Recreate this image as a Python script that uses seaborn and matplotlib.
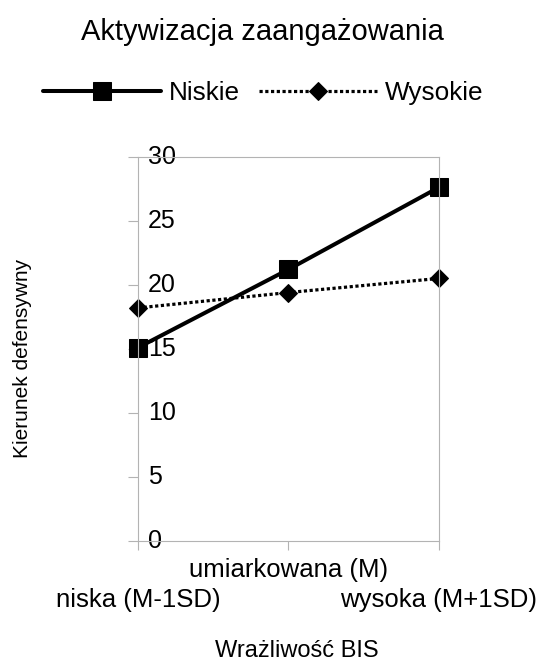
import numpy as np
import pandas as pd
import matplotlib
matplotlib.use("Agg")
import matplotlib.pyplot as plt
import matplotlib.transforms as mtransforms
import seaborn as sns

# Data
kategorie = ["niska (M-1SD)", "umiarkowana (M)", "wysoka (M+1SD)"]
niskie = [15.1, 21.2, 27.6]
wysokie = [18.2, 19.4, 20.5]

df = pd.DataFrame({
    "x": list(range(len(kategorie))) * 2,
    "wartosc": niskie + wysokie,
    "grupa": ["Niskie"] * 3 + ["Wysokie"] * 3,
})

sns.set_theme(style="white")
plt.rcParams["font.family"] = ["Liberation Sans", "DejaVu Sans"]
plt.rcParams["text.color"] = "black"
plt.rcParams["xtick.labelcolor"] = "black"
plt.rcParams["ytick.labelcolor"] = "black"

fig = plt.figure(figsize=(5.41, 6.64), dpi=100)
ax = fig.add_axes([0.255, 0.185, 0.556, 0.579])

sns.lineplot(data=df[df.grupa == "Niskie"], x="x", y="wartosc", ax=ax,
             color="black", marker="s", markersize=12.5, linewidth=2.9,
             markeredgecolor="black", label="Niskie", clip_on=False)
sns.lineplot(data=df[df.grupa == "Wysokie"], x="x", y="wartosc", ax=ax,
             color="black", marker="D", markersize=9, linewidth=2.3,
             linestyle=(0, (1, 0.8)), markeredgecolor="black",
             label="Wysokie", clip_on=False)

ax.set_xlim(0, 2)
ax.set_ylim(0, 30)
ax.set_yticks(range(0, 31, 5))
ax.set_xticks(range(len(kategorie)))
ax.set_xticklabels(kategorie, fontsize=18.5)
ax.tick_params(axis="y", direction="out", length=7.5, width=0.8, color="#b3b3b3",
               pad=-14.5, labelsize=18, left=True)
ax.tick_params(axis="x", direction="out", length=6.5, width=0.8, color="#b3b3b3",
               pad=27, bottom=True)
for lab in ax.get_yticklabels():
    lab.set_horizontalalignment("left")
    lab.set_verticalalignment("center")

# staggered category labels: the middle one sits one row higher
xlabs = ax.get_xticklabels()
xlabs[1].set_transform(xlabs[1].get_transform() +
                       mtransforms.ScaledTranslation(0, 30 / 100, fig.dpi_scale_trans))

for sp in ax.spines.values():
    sp.set_color("#b3b3b3")
    sp.set_linewidth(0.8)

ax.set_xlabel("")
ax.set_ylabel("")
ax.get_legend().remove()

fig.text(0.486, 0.940, "Aktywizacja zaangażowania", ha="center", va="baseline",
         fontsize=21)
fig.text(0.042, 0.46, "Kierunek defensywny", rotation=90, ha="center",
         va="center", fontsize=15)
fig.text(0.549, 0.003, "Wrażliwość BIS", ha="center", va="bottom", fontsize=17)

handles, labels = ax.get_legend_handles_labels()
fig.legend(handles, labels, loc="center", bbox_to_anchor=(0.487, 0.86),
           ncol=2, frameon=False, fontsize=18.8, handlelength=4.5,
           handletextpad=0.32, columnspacing=0.72)

fig.savefig("out.png", dpi=100)
